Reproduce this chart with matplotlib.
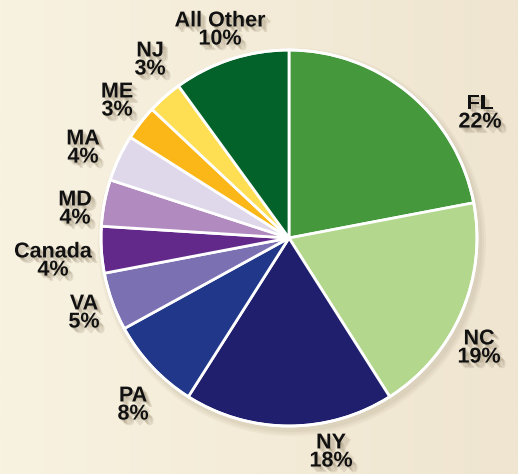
import numpy as np
import matplotlib.pyplot as plt
import matplotlib.patheffects as pe
from matplotlib.patches import Circle
from matplotlib.colors import LinearSegmentedColormap

# share of visitors by origin, clockwise from 12 o'clock
names = ['FL', 'NC', 'NY', 'PA', 'VA', 'Canada', 'MD', 'MA', 'ME', 'NJ', 'All Other']
shares = [22, 19, 18, 8, 5, 4, 4, 4, 3, 3, 10]
colors = ['#45983C', '#B4D78E', '#1F1F6E', '#21378A', '#7B70B2', '#63298A',
          '#B18BC0', '#DFD7EA', '#FBB718', '#FEDE52', '#03622A']

# label centres in pixels (x, y from top)
label_xy = [(480, 113), (479, 348), (331, 452), (133, 405), (84, 313), (53, 261),
            (75, 209), (83, 148), (117, 101), (150, 60), (220, 30)]

W, H = 518, 474
fig = plt.figure(figsize=(W / 100, H / 100), dpi=100)
fig.patch.set_facecolor('#F5EEDB')
ax = fig.add_axes([0, 0, 1, 1])

# parchment-ish background, a bit darker towards the right
bg = LinearSegmentedColormap.from_list('bg', ['#F8F2E1', '#F4ECD8', '#EFE5D1'])
grad = np.tile(np.linspace(0, 1, 256), (2, 1))
ax.imshow(grad, cmap=bg, extent=(0, W, 0, H), aspect='auto', zorder=-5)

cx, cy, r = 289, H - 238, 188

# soft shadow under the pie
for k in range(3):
    ax.add_patch(Circle((cx + 3, cy - 4), r + 2 + k * 2, color='#6b5a3a', alpha=0.05, lw=0, zorder=0))

ax.pie(shares, colors=colors, startangle=90, counterclock=False,
       center=(cx, cy), radius=r, frame=True,
       wedgeprops=dict(edgecolor='white', linewidth=2, zorder=2))
ax.add_patch(Circle((cx, cy), r, fill=False, ec='white', lw=2, zorder=3))
ax.set_xlim(0, W)
ax.set_ylim(0, H)
ax.set_aspect('equal')
ax.axis('off')

# blurry-ish drop shadow: a few stacked faint offsets
shadow = [pe.SimplePatchShadow(offset=(d, -d), shadow_rgbFace='#6e5c40', alpha=0.14)
          for d in (1, 2, 3, 4)] + [pe.Normal()]
for name, s, (x, y) in zip(names, shares, label_xy):
    ax.text(x, H - y, f'{name}\n{s}%', ha='center', va='center',
            fontsize=15.5, fontweight='bold', linespacing=0.82,
            family=['Liberation Sans', 'DejaVu Sans'],
            color='#111111', path_effects=shadow, zorder=5)

fig.savefig('out.png', dpi=100, facecolor=fig.get_facecolor())
